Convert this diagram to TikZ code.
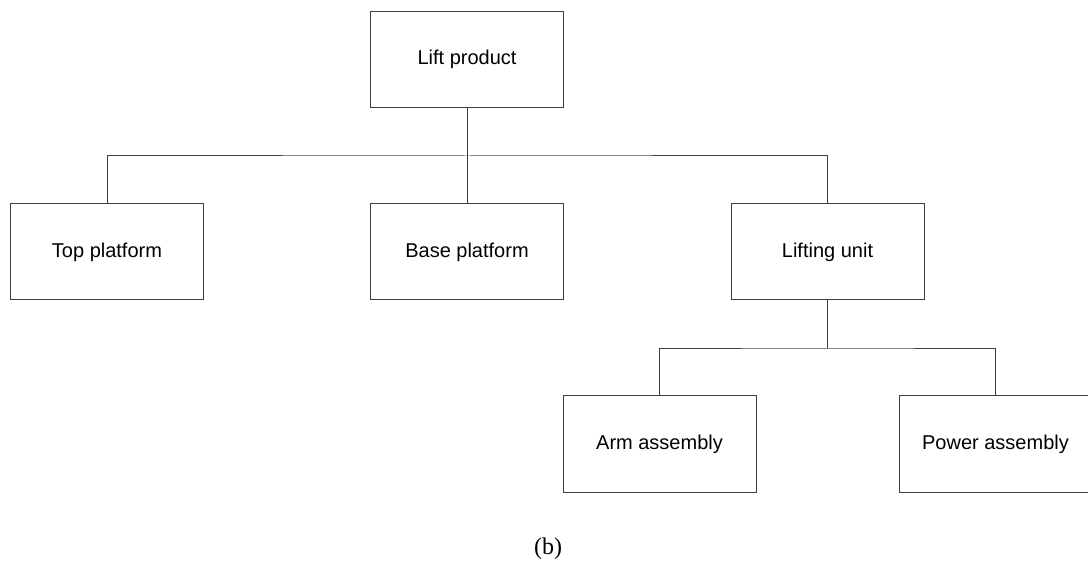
\documentclass[tikz,border=0pt]{standalone}
\usepackage{fontspec}
\setmainfont{Liberation Serif}
\newfontfamily\boxfont{Liberation Sans}
\begin{document}
\begin{tikzpicture}[x=1pt,y=-1pt,
  part/.style={draw=black!75, line width=1pt, fill=white,
    minimum width=193pt, minimum height=96pt, inner sep=0pt,
    font=\boxfont\fontsize{20}{24}\selectfont},
  link/.style={draw=black!75, line width=1pt}]
\useasboundingbox (0,0) rectangle (1088,569);
% tree of assemblies
\node[part] (lift) at (467,59.5) {Lift product};
\node[part] (top)  at (107,252) {Top platform};
\node[part] (base) at (467,252) {Base platform};
\node[part] (unit) at (827.5,252) {Lifting unit};
\node[part] (arm)  at (659.5,444) {Arm assembly};
\node[part] (pow)  at (995.5,444) {Power assembly};
% bus levels
\coordinate (bus1) at (467,156);
\coordinate (bus2) at (827.5,349);
% first level
\draw[link] (lift.south) -- (bus1);
\draw[link] (top.north) |- (bus1) -| (unit.north);
\draw[link] (bus1) -- (base.north);
% second level
\draw[link] (unit.south) -- (bus2);
\draw[link] (arm.north) |- (bus2) -| (pow.north);
% caption
\node[font=\fontsize{24}{28}\selectfont] (cap) at (548,549) {(b)};
\end{tikzpicture}
\end{document}
